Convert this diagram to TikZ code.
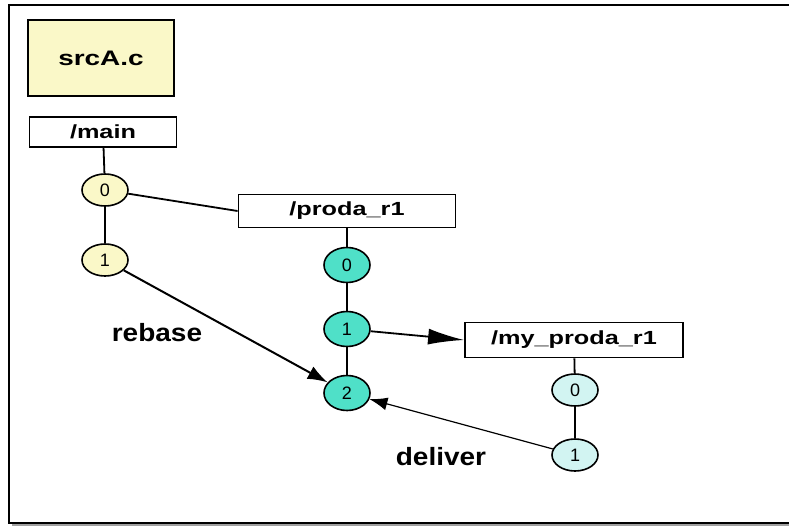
\documentclass[tikz,border=0pt]{standalone}
\usepackage{fontspec}
\setmainfont{Liberation Sans}
\usetikzlibrary{arrows.meta,shapes.geometric}
\definecolor{paleyellow}{HTML}{FAF8C8}
\definecolor{tealfill}{HTML}{4FE0C8}
\definecolor{palecyan}{HTML}{D2F4F2}
\definecolor{shadowgray}{HTML}{A0A0A0}
\newcommand{\wide}[1]{\scalebox{1.33}[1]{#1}}
\newcommand{\lblwide}[1]{\scalebox{1.12}[1]{#1}}
\begin{document}
\begin{tikzpicture}[x=1pt,y=-1pt,
  branch/.style={draw,line width=1.8pt,fill=white,minimum height=30pt,inner sep=0pt,font=\bfseries\fontsize{19}{21}\selectfont},
  ver/.style={draw,line width=1.6pt,ellipse,minimum width=46pt,minimum height=32pt,inner sep=0pt,font=\fontsize{18}{20}\selectfont},
  yv/.style={ver,fill=paleyellow},
  tv/.style={ver,fill=tealfill,minimum height=35pt},
  cv/.style={ver,fill=palecyan},
  conn/.style={line width=1.8pt},
  lbl/.style={font=\bfseries\fontsize{25}{28}\selectfont}
]
\useasboundingbox (0,0) rectangle (789,527);
\fill[white] (0,0) rectangle (789,527);
% frame
\draw[shadowgray,line width=2pt] (12,525) -- (789,525);
\draw[line width=1.3pt] (789,5) -- (9,5) -- (9,523) -- (789,523);
% nodes
\node[draw,line width=2.6pt,fill=paleyellow,minimum width=146pt,minimum height=76pt,inner sep=0pt,font=\bfseries\fontsize{21}{24}\selectfont] (src) at (101,58) {\wide{srcA.c}};
\node[branch,minimum width=147pt] (main) at (103,132) {\wide{/main}};
\node[yv] (m0) at (105,190) {0};
\node[yv] (m1) at (105,260) {1};
\node[branch,minimum width=217pt,minimum height=33pt] (proda) at (347,211) {\wide{/proda\_r1}};
\node[tv] (p0) at (347,265) {0};
\node[tv] (p1) at (347,329) {1};
\node[tv] (p2) at (347,393) {2};
\node[branch,minimum width=218pt,minimum height=35pt] (my) at (574,340) {\wide{/my\_proda\_r1}};
\node[cv] (y0) at (575,390) {0};
\node[cv] (y1) at (575,455) {1};
% connectors
\draw[conn] (main) -- (m0);
\draw[conn] (m0) -- (m1);
\draw[conn] (m0) -- (proda.west);
\draw[conn] (proda) -- (p0);
\draw[conn] (p0) -- (p1);
\draw[conn] (p1) -- (p2);
\draw[conn,-{Latex[length=36pt,width=16pt]}] (p1) -- (my.west);
\draw[conn] (my) -- (y0);
\draw[conn] (y0) -- (y1);
\draw[line width=2pt,-{Latex[length=20pt,width=14pt]}] (m1) -- (p2);
\draw[line width=1.2pt,-{Latex[length=18pt,width=13pt]}] (y1) -- (p2);
% labels
\node[lbl] (rebase) at (157,333) {\lblwide{rebase}};
\node[lbl] (deliver) at (441,457) {\lblwide{deliver}};
\end{tikzpicture}
\end{document}
